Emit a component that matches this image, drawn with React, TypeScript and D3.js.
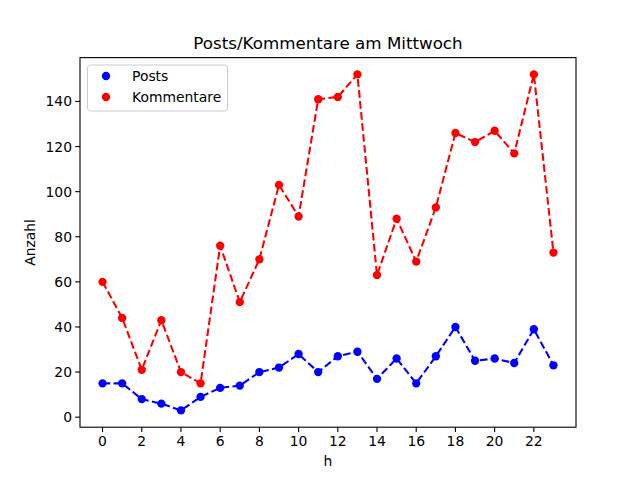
import React from "react";
import * as d3 from "d3";

const hours = d3.range(0, 24);
const posts = [15, 15, 8, 6, 3, 9, 13, 14, 20, 22, 28, 20, 27, 29, 17, 26, 15, 27, 40, 25, 26, 24, 39, 23];
const kommentare = [60, 44, 21, 43, 20, 15, 76, 51, 70, 103, 89, 141, 142, 152, 63, 88, 69, 93, 126, 122, 127, 117, 152, 73];
const xTicks = [0, 2, 4, 6, 8, 10, 12, 14, 16, 18, 20, 22];
const yTicks = [0, 20, 40, 60, 80, 100, 120, 140];
const seriesNames = ["Posts", "Kommentare"];
const seriesColors = ["#0000ff", "#ff0000"];

export default function App() {
  const W = 640, H = 480;
  const left = 80, right = 576, top = 57.6, bottom = 427.2;
  const allY = [...posts, ...kommentare];
  const yMin = d3.min(allY)!, yMax = d3.max(allY)!;
  const yPad = (yMax - yMin) * 0.05;
  const xPad = 23 * 0.05;
  const x = d3.scaleLinear().domain([0 - xPad, 23 + xPad]).range([left, right]);
  const y = d3.scaleLinear().domain([yMin - yPad, yMax + yPad]).range([bottom, top]);
  const line = d3.line<number>().x((_, i) => x(hours[i])).y((d) => y(d));
  const data = [posts, kommentare];
  const font = "DejaVu Sans, sans-serif";
  const r = 4.17;
  return (
    <svg width={W} height={H} style={{ position: "absolute", left: 0, top: 0 }} fontFamily={font}>
      <rect x={0} y={0} width={W} height={H} fill="#fff" />
      {data.map((s, k) => (
        <g key={k}>
          <path d={line(s)!} fill="none" stroke={seriesColors[k]} strokeWidth={2.08} strokeDasharray="7.7,3.33" />
          {s.map((v, i) => (
            <circle key={i} cx={x(hours[i])} cy={y(v)} r={r} fill={seriesColors[k]} />
          ))}
        </g>
      ))}
      <rect x={left} y={top} width={right - left} height={bottom - top} fill="none" stroke="#000" strokeWidth={1.1} />
      {xTicks.map((t) => (
        <g key={t}>
          <line x1={x(t)} x2={x(t)} y1={bottom} y2={bottom + 4.86} stroke="#000" strokeWidth={1.1} />
          <text x={x(t)} y={bottom + 19} textAnchor="middle" fontSize={13.9}>{t}</text>
        </g>
      ))}
      {yTicks.map((t) => (
        <g key={t}>
          <line x1={left - 4.86} x2={left} y1={y(t)} y2={y(t)} stroke="#000" strokeWidth={1.1} />
          <text x={left - 8} y={y(t) + 5} textAnchor="end" fontSize={13.9}>{t}</text>
        </g>
      ))}
      <text x={(left + right) / 2} y={49} textAnchor="middle" fontSize={16.7}>Posts/Kommentare am Mittwoch</text>
      <text x={(left + right) / 2} y={466} textAnchor="middle" fontSize={13.9}>h</text>
      <text transform={`translate(35,${(top + bottom) / 2}) rotate(-90)`} textAnchor="middle" fontSize={13.9}>Anzahl</text>
      <g>
        <rect x={87.5} y={65} width={140} height={46} rx={3} fill="#fff" fillOpacity={0.8} stroke="#cccccc" strokeWidth={1} />
        {seriesNames.map((n, k) => (
          <g key={n}>
            <circle cx={106} cy={76 + k * 21} r={r} fill={seriesColors[k]} />
            <text x={132} y={81 + k * 21} fontSize={13.9}>{n}</text>
          </g>
        ))}
      </g>
    </svg>
  );
}
